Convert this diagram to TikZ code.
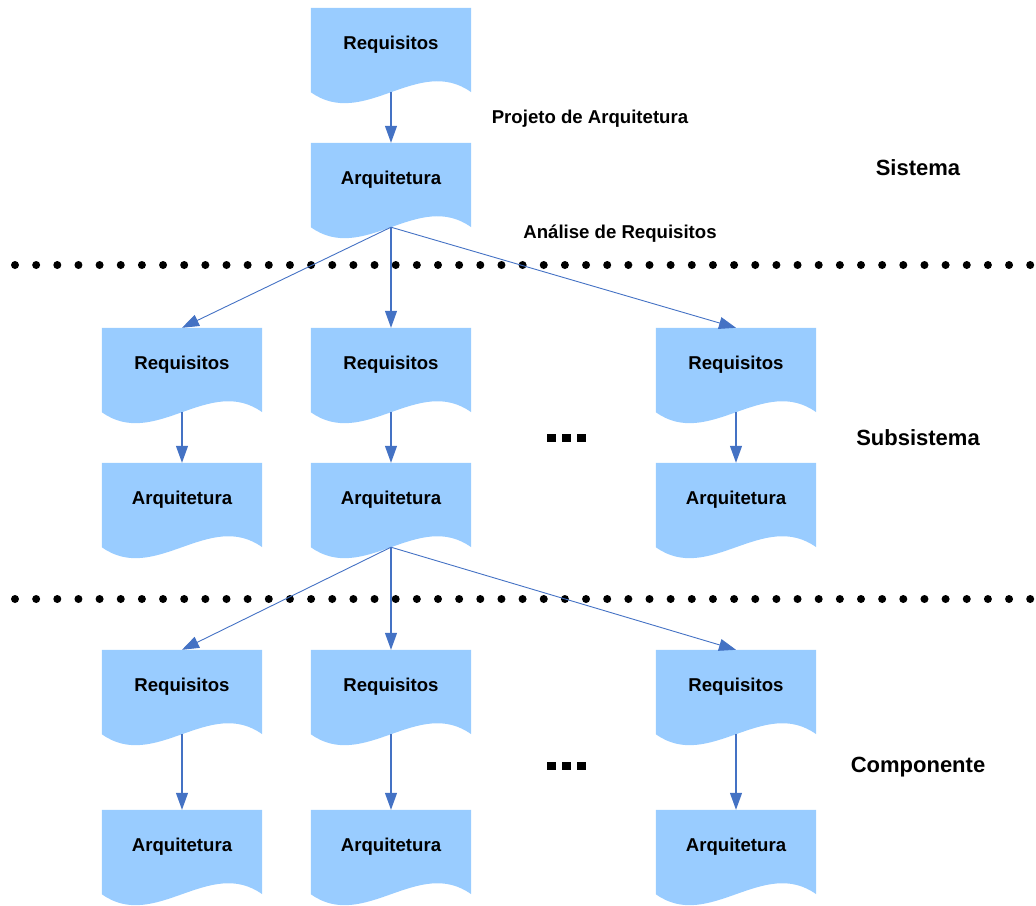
\documentclass[tikz,border=0pt]{standalone}
\usepackage{fontspec}
\setmainfont{Liberation Sans}
\usetikzlibrary{arrows.meta,backgrounds}

\definecolor{docblue}{RGB}{153,204,255}
\definecolor{flowblue}{RGB}{68,114,196}

\tikzset{
  docbox/.style={minimum width=160pt, minimum height=84pt, inner sep=0pt,
    font=\fontsize{18.6}{22}\selectfont\bfseries},
  flow/.style={draw=flowblue, line width=1.1pt,
    -{Triangle[length=17pt,width=12pt]}},
  thinflow/.style={draw=flowblue, line width=0.9pt,
    -{Triangle[length=17pt,width=12pt]}},
  steplabel/.style={font=\fontsize{18.6}{22}\selectfont\bfseries},
  levellabel/.style={font=\fontsize{22}{26}\selectfont\bfseries},
  sepdot/.style={fill=black},
  moredots/.style={fill=black}
}

% document symbol: rectangle with a wavy bottom edge
\newcommand{\docnode}[3]{%
  \node[docbox] (#1) at (#2) {\raisebox{15pt}{#3}};
  \begin{scope}[on background layer]
    \fill[docblue] (#1.north west) -- (#1.north east) -- (#1.south east)
      .. controls +(-53,-38) and +(53,38) .. (#1.south west) -- cycle;
  \end{scope}}

\begin{document}
\begin{tikzpicture}[x=1pt, y=-1pt]
\useasboundingbox (0,0) rectangle (1036,905);

% system level
\docnode{sysreq}{391,50}{Requisitos}
\docnode{sysarq}{391,185}{Arquitetura}

% subsystem level
\docnode{subreqA}{182,370}{Requisitos}
\docnode{subreqB}{391,370}{Requisitos}
\docnode{subreqC}{736,370}{Requisitos}
\docnode{subarqA}{182,505}{Arquitetura}
\docnode{subarqB}{391,505}{Arquitetura}
\docnode{subarqC}{736,505}{Arquitetura}

% component level
\docnode{compreqA}{182,692}{Requisitos}
\docnode{compreqB}{391,692}{Requisitos}
\docnode{compreqC}{736,692}{Requisitos}
\docnode{comparqA}{182,852}{Arquitetura}
\docnode{comparqB}{391,852}{Arquitetura}
\docnode{comparqC}{736,852}{Arquitetura}

% level separators
\foreach \i in {0,...,48} {
  \fill[sepdot] (15+21.15*\i, 265) circle (4);
  \fill[sepdot] (15+21.15*\i, 599) circle (4);
}

% flows
\draw[flow] (sysreq.south) -- (sysarq.north);
\draw[thinflow] (sysarq.south) -- (subreqA.north);
\draw[flow] (sysarq.south) -- (subreqB.north);
\draw[thinflow] (sysarq.south) -- (subreqC.north);

\draw[flow] (subreqA.south) -- (subarqA.north);
\draw[flow] (subreqB.south) -- (subarqB.north);
\draw[flow] (subreqC.south) -- (subarqC.north);

\draw[thinflow] (subarqB.south) -- (compreqA.north);
\draw[flow] (subarqB.south) -- (compreqB.north);
\draw[thinflow] (subarqB.south) -- (compreqC.north);

\draw[flow] (compreqA.south) -- (comparqA.north);
\draw[flow] (compreqB.south) -- (comparqB.north);
\draw[flow] (compreqC.south) -- (comparqC.north);

% process labels
\node[steplabel] (projeto) at (590,119) {Projeto de Arquitetura};
\node[steplabel] (analise) at (620,234) {Análise de Requisitos};

% level labels
\node[levellabel] (sistema) at (918,168) {Sistema};
\node[levellabel] (subsistema) at (918,438) {Subsistema};
\node[levellabel] (componente) at (918,767) {Componente};

% omitted columns
\foreach \cx in {551.5,566.5,581.5} {
  \fill[moredots] (\cx-4.2,433.8) rectangle (\cx+4.2,442.2);
  \fill[moredots] (\cx-4.2,761.8) rectangle (\cx+4.2,770.2);
}
\end{tikzpicture}
\end{document}
